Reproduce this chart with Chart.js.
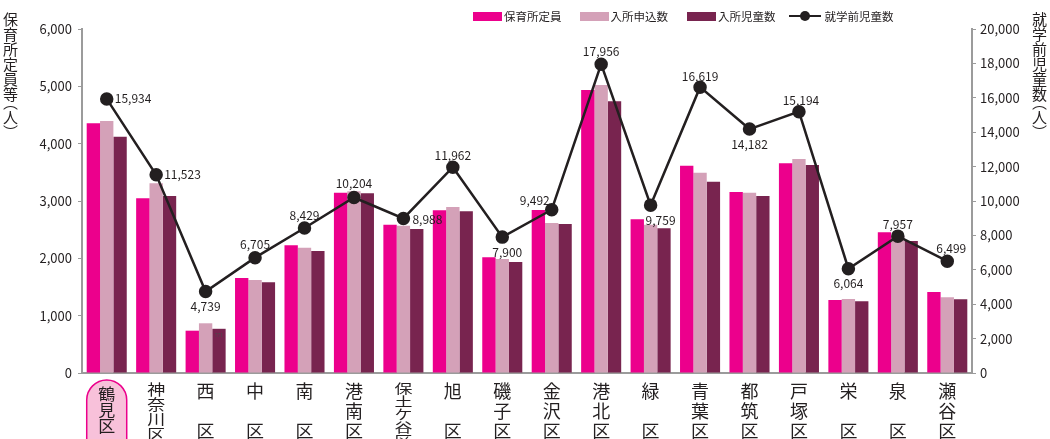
<!DOCTYPE html>
<html>
<head>
<meta charset="utf-8">
<script src="https://cdn.jsdelivr.net/npm/chart.js@4"></script>
<style>
  body { margin: 0; background: #fff; font-family: "Noto Sans CJK JP", sans-serif; color: #231F20; }
  #wrap { position: relative; width: 1050px; height: 439px; overflow: hidden; }
  #chart { position: absolute; left: 0; top: 0; }
  .vt { position: absolute; writing-mode: vertical-rl; font-size: 15px; line-height: 1; }
  .vt .p { font-feature-settings: "vhal"; }
  .legend { position: absolute; top: 8px; left: 473px; display: flex; align-items: center; font-size: 11.5px; white-space: nowrap; }
  .legend .box { width: 29px; height: 9px; margin-right: 2px; }
  .legend .ln { position: relative; width: 32px; height: 12px; margin-right: 4px; }
  .legend .ln::before { content: ""; position: absolute; left: 0; right: 0; top: 5px; height: 2px; background: #231F20; }
  .legend .ln::after { content: ""; position: absolute; left: 11px; top: 1px; width: 10px; height: 10px; border-radius: 50%; background: #231F20; }
</style>
</head>
<body>
<div id="wrap">
  <canvas id="chart" width="1050" height="439"></canvas>
  <div class="vt" style="left:3px; top:12px;">保育所定員等<span class="p">（</span>人<span class="p">）</span></div>
  <div class="vt" style="left:1032px; top:12px;">就学前児童数<span class="p">（</span>人<span class="p">）</span></div>
  <div class="legend">
    <div class="box" style="background:#EC008C"></div><span>保育所定員</span>
    <div class="box" style="background:#D4A1B8; margin-left:18px"></div><span>入所申込数</span>
    <div class="box" style="background:#78244F; margin-left:19px"></div><span>入所児童数</span>
    <div class="ln" style="margin-left:13px"></div><span>就学前児童数</span>
  </div>
</div>
<script>
// 区ごとのデータ
const districts = ['鶴見区', '神奈川区', '西区', '中区', '南区', '港南区', '保土ケ谷区', '旭区', '磯子区',
                   '金沢区', '港北区', '緑区', '青葉区', '都筑区', '戸塚区', '栄区', '泉区', '瀬谷区'];
const capacity     = [4355, 3047, 738, 1657, 2227, 3145, 2587, 2837, 2018, 2843, 4936, 2680, 3616, 3157, 3658, 1273, 2454, 1413];
const applications = [4395, 3309, 867, 1622, 2186, 3169, 2570, 2895, 1988, 2616, 5023, 2587, 3494, 3145, 3733, 1291, 2380, 1320];
const enrolled     = [4122, 3087, 771, 1582, 2128, 3134, 2512, 2820, 1936, 2599, 4739, 2524, 3337, 3087, 3628, 1250, 2302, 1285];
const preschool    = [15934, 11523, 4739, 6705, 8429, 10204, 8988, 11962, 7900, 9492, 17956, 9759, 16619, 14182, 15194, 6064, 7957, 6499];

const leftMax = 6000, leftStep = 1000;
const rightMax = 20000, rightStep = 2000;

const textColor = '#231F20';
const axisColor = '#9B9B9B';
const font = '"Noto Sans CJK JP", sans-serif';

// label offsets for the line values [dx, dy, align]
const lineLabelPos = [
  [8, 0, 'left'], [8, 0, 'left'], [0, 15, 'center'], [0, -13, 'center'], [0, -13, 'center'],
  [0, -14, 'center'], [9, 1, 'left'], [0, -12, 'center'], [5, 15, 'center'], [-2, -9, 'right'],
  [0, -13, 'center'], [10, 15, 'center'], [0, -11, 'center'], [0, 15, 'center'], [2, -11, 'center'],
  [0, 15, 'center'], [0, -12, 'center'], [4, -13, 'center']
];

const lineLabels = {
  id: 'lineLabels',
  afterDatasetsDraw(chart) {
    const ctx = chart.ctx;
    const meta = chart.getDatasetMeta(3);
    ctx.save();
    ctx.font = '12px ' + font;
    ctx.fillStyle = textColor;
    ctx.textBaseline = 'middle';
    meta.data.forEach((pt, i) => {
      const [dx, dy, align] = lineLabelPos[i];
      ctx.textAlign = align;
      ctx.fillText(preschool[i].toLocaleString('en-US'), pt.x + dx, pt.y + dy);
    });
    // tiny value printed in the 西区 bar
    const bar = chart.getDatasetMeta(2).data[2];
    ctx.font = '5px ' + font;
    ctx.textAlign = 'center';
    ctx.fillStyle = '#4a4a4a';
    ctx.fillText(enrolled[2], bar.x, bar.y + 6);
    ctx.restore();
  }
};

// vertical category labels
const xLabels = {
  id: 'xLabels',
  afterDraw(chart) {
    const ctx = chart.ctx;
    const x = chart.scales.x;
    ctx.save();
    ctx.textAlign = 'center';
    ctx.textBaseline = 'top';
    districts.forEach((name, i) => {
      const cx = x.getPixelForValue(i);
      let chars = name.split('');
      let top = 382, step, size = 18;
      if (i === 0) {
        ctx.beginPath();
        ctx.roundRect(cx - 20, 380, 40, 80, 20);
        ctx.fillStyle = '#F8C1DA';
        ctx.fill();
        ctx.lineWidth = 1.5;
        ctx.strokeStyle = '#EC008C';
        ctx.stroke();
        top = 386; step = 16; size = 17;
      } else if (chars.length === 2) {
        chars = [chars[0], '', chars[1]];
        step = 20;
      } else if (chars.length === 3) {
        step = 20;
      } else if (chars.length === 4) {
        step = 15;
      } else {
        step = 13;
      }
      const sy = Math.min(1, step / size);
      ctx.fillStyle = textColor;
      ctx.font = size + 'px ' + font;
      chars.forEach((c, k) => {
        if (!c) return;
        ctx.save();
        ctx.translate(cx, top + k * step);
        ctx.scale(1, sy);
        ctx.fillText(c, 0, 0);
        ctx.restore();
      });
    });
    ctx.restore();
  }
};

new Chart(document.getElementById('chart'), {
  type: 'bar',
  data: {
    labels: districts,
    datasets: [
      { label: '保育所定員', data: capacity, backgroundColor: '#EC008C', yAxisID: 'y', order: 1 },
      { label: '入所申込数', data: applications, backgroundColor: '#D4A1B8', yAxisID: 'y', order: 1 },
      { label: '入所児童数', data: enrolled, backgroundColor: '#78244F', yAxisID: 'y', order: 1 },
      {
        type: 'line', label: '就学前児童数', data: preschool, yAxisID: 'y2', order: 0,
        borderColor: textColor, borderWidth: 2.5, pointRadius: 5.5,
        pointBackgroundColor: textColor, pointBorderColor: textColor, tension: 0
      }
    ]
  },
  options: {
    responsive: false,
    animation: false,
    layout: { padding: { top: 29 } },
    plugins: { legend: { display: false }, tooltip: { enabled: false } },
    datasets: { bar: { categoryPercentage: 0.81, barPercentage: 1 } },
    scales: {
      x: {
        ticks: { display: false },
        grid: { display: false },
        border: { color: axisColor, width: 2 },
        afterFit(scale) { scale.height = 66; }
      },
      y: {
        position: 'left',
        min: 0, max: leftMax,
        ticks: {
          stepSize: leftStep, padding: 6, color: textColor,
          font: { family: font, size: 13 },
          callback: v => v.toLocaleString('en-US')
        },
        grid: { drawOnChartArea: false, tickLength: 4, color: axisColor },
        border: { color: axisColor, width: 2 },
        afterFit(scale) { scale.width = 82; }
      },
      y2: {
        position: 'right',
        min: 0, max: rightMax,
        ticks: {
          stepSize: rightStep, padding: 4, color: textColor,
          font: { family: font, size: 13 },
          callback: v => v.toLocaleString('en-US')
        },
        grid: { drawOnChartArea: false, tickLength: 4, color: axisColor },
        border: { color: axisColor, width: 2 },
        afterFit(scale) { scale.width = 78; }
      }
    }
  },
  plugins: [lineLabels, xLabels]
});
</script>
</body>
</html>
